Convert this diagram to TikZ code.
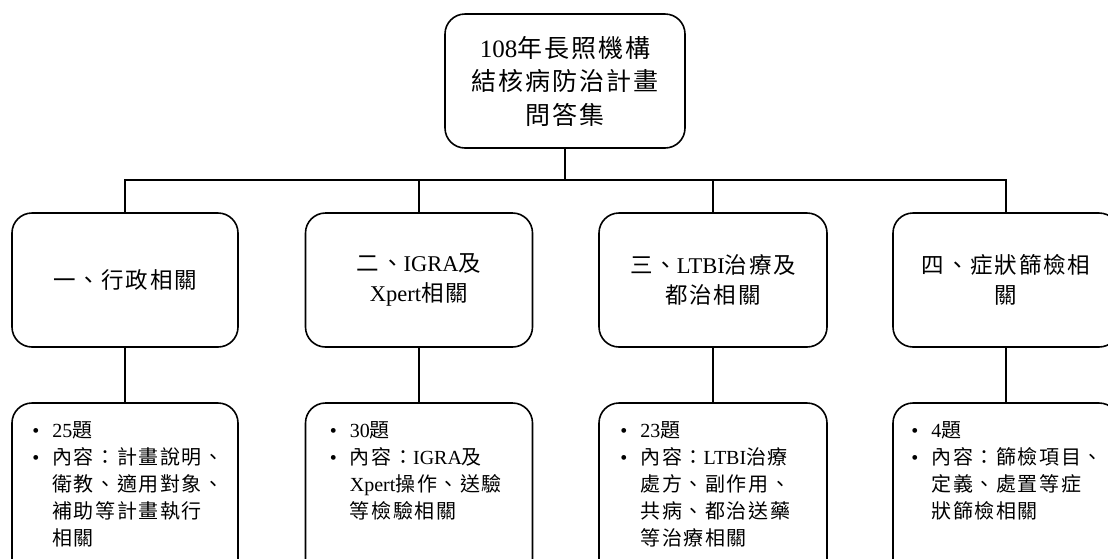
\documentclass[tikz,border=0pt]{standalone}
\usepackage{fontspec}
\setmainfont{Liberation Serif}
\newfontfamily\cjk[LetterSpace=8]{Noto Sans CJK TC}
\usetikzlibrary{calc}
\newcommand\zh[1]{{\cjk #1}}
\newcommand\bitem{\makebox[20pt][l]{•}}
\newcommand\bindent{\hspace*{20pt}}
\begin{document}
\begin{tikzpicture}[x=1pt,y=-1pt,
  box/.style={draw,line width=1.6pt,rounded corners=20pt,inner sep=0pt},
  link/.style={line width=1.6pt},
  topfont/.style={font=\fontsize{25}{33.5}\selectfont,align=center},
  midfont/.style={font=\fontsize{22.5}{29.5}\selectfont,align=center},
  lowtext/.style={anchor=north west,inner sep=0pt,align=left,font=\fontsize{20}{27}\selectfont}]
\useasboundingbox (0,0) rectangle (1108,558);
\clip (0,0) rectangle (1108,558);
\fill[white] (0,0) rectangle (1108,558);

\node[box,minimum width=240pt,minimum height=134pt,topfont] (top) at (565,81)
  {108\zh{年長照機構}\\\zh{結核病防治計畫}\\\zh{問答集}};

\node[box,minimum width=226pt,minimum height=134pt,midfont] (m1) at (125,280) {\zh{一、行政相關}};
\node[box,minimum width=227pt,minimum height=134pt,midfont] (m2) at (419,280) {\zh{二、}IGRA\zh{及}\\Xpert\zh{相關}};
\node[box,minimum width=228pt,minimum height=134pt,midfont] (m3) at (713,280) {\zh{三、}LTBI\zh{治療及}\\\zh{都治相關}};
\node[box,minimum width=226pt,minimum height=134pt,midfont] (m4) at (1006,280) {\zh{四、症狀篩檢相}\\\zh{關}};

\node[box,minimum width=226pt,minimum height=187pt] (b1) at (125,496.5) {};
\node[box,minimum width=227pt,minimum height=187pt] (b2) at (419,496.5) {};
\node[box,minimum width=228pt,minimum height=187pt] (b3) at (713,496.5) {};
\node[box,minimum width=226pt,minimum height=187pt] (b4) at (1006,496.5) {};

\node[lowtext] (t1) at ($(b1.north west)+(21,19)$)
  {\bitem 25\zh{題}\\\bitem\zh{內容：計畫說明、}\\\bindent\zh{衛教、適用對象、}\\\bindent\zh{補助等計畫執行}\\\bindent\zh{相關}};
\node[lowtext] (t2) at ($(b2.north west)+(25,19)$)
  {\bitem 30\zh{題}\\\bitem\zh{內容：}IGRA\zh{及}\\\bindent Xpert\zh{操作、送驗}\\\bindent\zh{等檢驗相關}};
\node[lowtext] (t3) at ($(b3.north west)+(22,19)$)
  {\bitem 23\zh{題}\\\bitem\zh{內容：}LTBI\zh{治療}\\\bindent\zh{處方、副作用、}\\\bindent\zh{共病、都治送藥}\\\bindent\zh{等治療相關}};
\node[lowtext] (t4) at ($(b4.north west)+(19,19)$)
  {\bitem 4\zh{題}\\\bitem\zh{內容：篩檢項目、}\\\bindent\zh{定義、處置等症}\\\bindent\zh{狀篩檢相關}};

\coordinate (bus) at (565,180);
\draw[link] (top.south) -- (bus);
\draw[link] (m1.north) |- (bus) -| (m4.north);
\draw[link] (m2.north) -- (m2.north |- bus);
\draw[link] (m3.north) -- (m3.north |- bus);
\foreach \i in {1,2,3,4}{\draw[link] (m\i.south) -- (b\i.north);}
\end{tikzpicture}
\end{document}
